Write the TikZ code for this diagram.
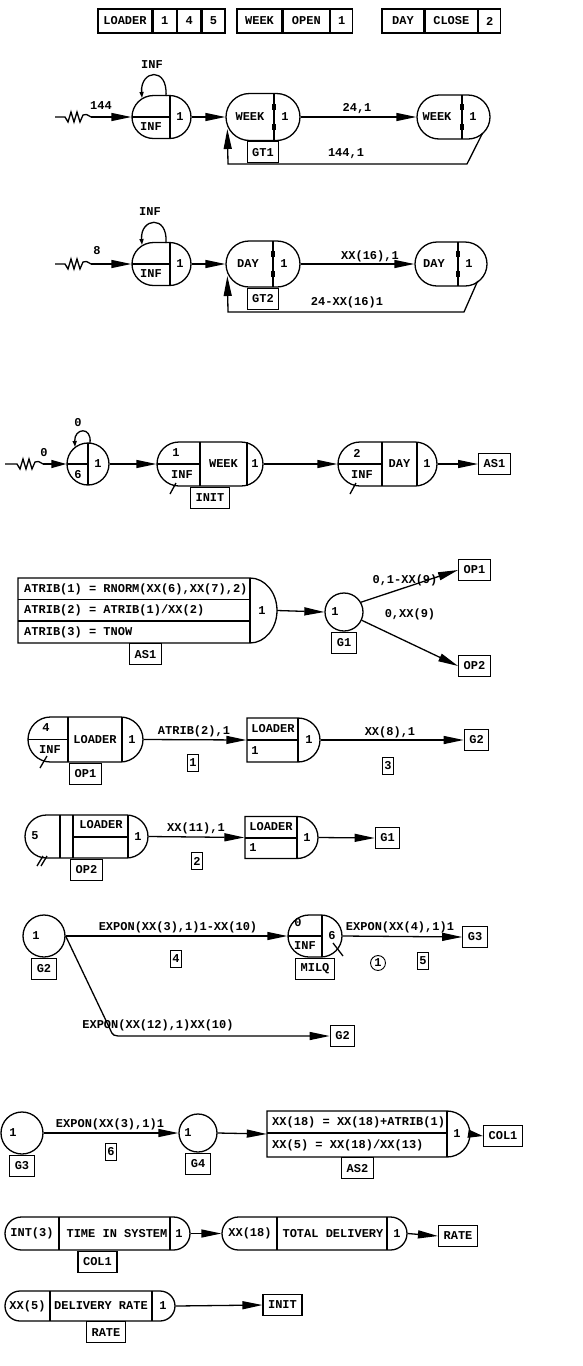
\documentclass[tikz,border=0pt]{standalone}
\usepackage{fontspec}
\setmonofont{Liberation Mono}
\usetikzlibrary{arrows.meta,calc,positioning,shapes.misc}

\begin{document}
\begin{tikzpicture}[
  x=1pt,
  y=-1pt,
  font=\ttfamily\bfseries\fontsize{12}{14}\selectfont,
  line/.style={draw=black,line width=1.3pt},
  fine/.style={draw=black,line width=0.9pt},
  arrow/.style={line,-{Triangle[length=20pt,width=8pt]}},
  shortarrow/.style={line,-{Triangle[length=15pt,width=8pt]}},
  looparrow/.style={line,-{Triangle[length=6pt,width=4pt]}},
  stad/.style={line,rounded rectangle,inner sep=0pt},
  rstad/.style={stad,rounded rectangle left arc=none},
  gnode/.style={line,circle,inner sep=0pt},
  hull/.style={inner sep=0pt},
  cell/.style={line,minimum height=24pt,inner sep=0pt},
  lbox/.style={line,minimum height=21pt,inner xsep=5pt,inner ysep=0pt},
  numbox/.style={fine,minimum height=17pt,inner xsep=1.5pt,inner ysep=0pt},
  lab/.style={inner sep=0pt}
]
\fill[white] (0,0) rectangle (583,1366);
\useasboundingbox (0,0) rectangle (583,1366);

% Resources
\node[cell,minimum width=54pt] (ld) at (125,21) {LOADER};
\node[cell,minimum width=23pt,right=0pt of ld] (ldone) {1};
\node[cell,minimum width=23pt,right=0pt of ldone] (ldfour) {4};
\node[cell,minimum width=23pt,right=0pt of ldfour] (ldfive) {5};
\node[cell,minimum width=45pt] (wk) at (259.5,21) {WEEK};
\node[cell,minimum width=46pt,right=0pt of wk] (wkopen) {OPEN};
\node[cell,minimum width=22pt,right=0pt of wkopen] (wkone) {1};
\node[cell,minimum width=42pt] (dy) at (403,21) {DAY};
\node[cell,minimum width=52pt,right=0pt of dy] (dyclose) {CLOSE};
\node[cell,minimum width=22pt,right=0pt of dyclose] (dytwo) {2};

% Week gate
\draw[line] (55,117) -- ++(10,0) -- ++(3,5) -- ++(3,-10) -- ++(3,10) -- ++(3,-10)
  -- ++(3,10) -- ++(3,-7) .. controls ++(3,-1) .. ++(8,2) coordinate (ra);
\node[lab] at (101,106) {144};
\node[stad,minimum width=59pt,minimum height=43pt] (qa) at (161.5,117) {};
\draw[line] (170,95.5) -- (170,138.5);
\draw[line] (132,117) -- (170,117);
\node[lab] at (151,127) {INF};
\node[lab] at (180,117) {1};
\draw[looparrow] (166,96) .. controls (168,66) and (140,70) .. (142,98);
\node[lab] at (152,65) {INF};
\draw[arrow] (ra) -- (qa.west);

\node[stad,minimum width=74pt,minimum height=47pt] (wa) at (263,117) {};
\draw[line] (274,93.5) -- (274,140.5);
\fill (272,104) rectangle (276,110);
\fill (272,124) rectangle (276,130);
\node[lab] at (250,117) {WEEK};
\node[lab] at (285,117) {1};
\node[lbox,below=0pt of wa] (gta) {GT1};
\draw[arrow] (qa.east) -- (wa.west);

\node[stad,minimum width=73pt,minimum height=44pt] (wb) at (453.5,117) {};
\draw[line] (462,95) -- (462,139);
\fill (460,104) rectangle (464,110);
\fill (460,124) rectangle (464,130);
\node[lab] at (437,117) {WEEK};
\node[lab] at (473,117) {1};
\draw[arrow] (wa.east) -- (wb.west);
\node[lab] at (357,109) {24,1};
\draw[arrow] ($(wb.east)+(-8,16)$) -- (467,164) -- (228,164) -- ($(wa.west)+(2,12)$);
\node[lab] at (346,154) {144,1};

% Day gate
\draw[line] (55,264) -- ++(10,0) -- ++(3,5) -- ++(3,-10) -- ++(3,10) -- ++(3,-10)
  -- ++(3,10) -- ++(3,-7) .. controls ++(3,-1) .. ++(8,2) coordinate (rb);
\node[lab] at (97,251) {8};
\node[stad,minimum width=59pt,minimum height=43pt] (qb) at (161.5,264) {};
\draw[line] (170,242.5) -- (170,285.5);
\draw[line] (132,264) -- (170,264);
\node[lab] at (151,274) {INF};
\node[lab] at (180,264) {1};
\draw[looparrow] (166,243) .. controls (168,214) and (140,218) .. (142,245);
\node[lab] at (150,212) {INF};
\draw[arrow] (rb) -- (qb.west);

\node[stad,minimum width=74pt,minimum height=46pt] (da) at (263,264) {};
\draw[line] (273,241) -- (273,287);
\fill (271,251) rectangle (275,257);
\fill (271,271) rectangle (275,277);
\node[lab] at (248,264) {DAY};
\node[lab] at (284,264) {1};
\node[lbox,below=0pt of da] (gtb) {GT2};
\draw[arrow] (qb.east) -- (da.west);

\node[stad,minimum width=72pt,minimum height=44pt] (db) at (451,264) {};
\draw[line] (458,242) -- (458,286);
\fill (456,251) rectangle (460,257);
\fill (456,271) rectangle (460,277);
\node[lab] at (434,264) {DAY};
\node[lab] at (469,264) {1};
\draw[arrow] (da.east) -- (db.west);
\node[lab] at (370,256) {XX(16),1};
\draw[arrow] ($(db.east)+(-10,17)$) -- (464,312) -- (228,312) -- ($(da.west)+(2,12)$);
\node[lab] at (347,302) {24-XX(16)1};

% Initial entity
\draw[line] (5,464) -- ++(12,0) -- ++(3,5) -- ++(3,-10) -- ++(3,10) -- ++(3,-10)
  -- ++(3,10) -- ++(3,-7) .. controls ++(3,-1) .. ++(8,2) coordinate (rc);
\node[lab] at (44,453) {0};
\node[gnode,minimum size=42pt] (cr) at (88,464) {};
\draw[line] (88,443) -- (88,485);
\draw[line] (67,464) -- (88,464);
\node[lab] at (78,475) {6};
\node[lab] at (98,464) {1};
\draw[looparrow] (90,443) .. controls (92,426) and (74,428) .. (75,447);
\node[lab] at (78,423) {0};
\draw[shortarrow] (rc) -- (cr.west);

\node[stad,minimum width=106pt,minimum height=44pt] (ena) at (210,464) {};
\draw[line] (200,442) -- (200,486);
\draw[line] (157,464) -- (200,464);
\draw[line] (247,442) -- (247,486);
\node[lab] at (176,453) {1};
\node[lab] at (182,475) {INF};
\node[lab] at (223.5,464) {WEEK};
\node[lab] at (255,464) {1};
\draw[line] (170,494) -- (176,483);
\node[lbox,below=0pt of ena] (init) {INIT};
\draw[arrow] (cr.east) -- (ena.west);

\node[stad,minimum width=99pt,minimum height=44pt] (enb) at (387.5,464) {};
\draw[line] (382,442) -- (382,486);
\draw[line] (338,464) -- (382,464);
\draw[line] (417,442) -- (417,486);
\node[lab] at (357,453) {2};
\node[lab] at (362,475) {INF};
\node[lab] at (399.5,464) {DAY};
\node[lab] at (427,464) {1};
\draw[line] (350,494) -- (356,483);
\draw[arrow] (ena.east) -- (enb.west);
\node[lbox] (asat) at (494.5,464) {AS1};
\draw[arrow] (enb.east) -- (asat.west);

% Assign AS1
\draw[line] (18,578) -- (250,578) arc[start angle=90,end angle=-90,x radius=27pt,y radius=32.5pt] -- (18,643) -- cycle;
\node[hull,minimum width=259pt,minimum height=65pt] (asa) at (147.5,610.5) {};
\draw[line] (18,599.5) -- (250,599.5);
\draw[line] (18,621) -- (250,621);
\draw[line] (250,578) -- (250,643);
\node[lab,anchor=west] at (24,589) {ATRIB(1) = RNORM(XX(6),XX(7),2)};
\node[lab,anchor=west] at (24,610) {ATRIB(2) = ATRIB(1)/XX(2)};
\node[lab,anchor=west] at (24,632) {ATRIB(3) = TNOW};
\node[lab] at (262,610.5) {1};
\node[lbox,anchor=north] (asab) at (145.5,643) {AS1};

\node[gnode,minimum size=38pt] (ga) at (344,612) {};
\node[lab] at (335,612) {1};
\node[lbox,below=0pt of ga] (gab) {G1};
\draw[arrow] (asa.east) -- (ga.west);
\node[lbox] (opat) at (474.5,570) {OP1};
\node[lbox] (opbt) at (474.5,666) {OP2};
\draw[arrow] (ga.30) -- (opat.west);
\draw[arrow] (ga.-25) -- (opbt.west);
\node[lab] at (405,580) {0,1-XX(9)};
\node[lab] at (410,614) {0,XX(9)};

% Operation OP1
\node[stad,minimum width=115pt,minimum height=45pt] (opa) at (85.5,739.5) {};
\draw[line] (68,717) -- (68,762);
\draw[line] (28,739.5) -- (68,739.5);
\draw[line] (122,717) -- (122,762);
\node[lab] at (46,728) {4};
\node[lab] at (50,750) {INF};
\node[lab] at (95,739.5) {LOADER};
\node[lab] at (132,739.5) {1};
\draw[line] (40,768) -- (47,756);
\node[lbox,below=0pt of opa] (opab) {OP1};

\node[rstad,minimum width=73pt,minimum height=44pt] (fra) at (283.5,740) {};
\draw[line] (298,718) -- (298,762);
\draw[line] (247,740) -- (298,740);
\node[lab] at (273,729) {LOADER};
\node[lab] at (255,751) {1};
\node[lab] at (309,740) {1};
\draw[arrow] (opa.east) -- (fra.west);
\node[lab] at (194,731) {ATRIB(2),1};
\node[numbox] at (193,763) {1};
\node[lbox] (gbt) at (476.5,740) {G2};
\draw[arrow] (fra.east) -- (gbt.west);
\node[lab] at (390,732) {XX(8),1};
\node[numbox] at (388,766) {3};

% Operation OP2
\node[stad,minimum width=123pt,minimum height=43pt] (opb) at (86.5,836.5) {};
\draw[line] (60,815) -- (60,858);
\draw[line] (73,815) -- (73,858);
\draw[line] (73,837) -- (128,837);
\draw[line] (128,815) -- (128,858);
\node[lab] at (35,836) {5};
\node[lab] at (101,825) {LOADER};
\node[lab] at (138,836.5) {1};
\draw[line] (37,866) -- (43,856);
\draw[line] (41,866) -- (47,856);
\node[lbox,below=0pt of opb] (opbb) {OP2};

\node[rstad,minimum width=73pt,minimum height=42pt] (frb) at (281.5,837.5) {};
\draw[line] (297,816.5) -- (297,858.5);
\draw[line] (245,838) -- (297,838);
\node[lab] at (271,827) {LOADER};
\node[lab] at (253,848) {1};
\node[lab] at (307,837.5) {1};
\draw[arrow] (opb.east) -- (frb.west);
\node[lab] at (196,828) {XX(11),1};
\node[numbox] at (197,861) {2};
\node[lbox] (gat) at (387.5,838) {G1};
\draw[arrow] (frb.east) -- (gat.west);

% Milling queue
\node[gnode,minimum size=42pt] (gb) at (44,936) {};
\node[lab] at (36,936) {1};
\node[lbox,below=0pt of gb] (gbb) {G2};
\node[stad,minimum width=54pt,minimum height=42pt] (milq) at (315,936) {};
\draw[line] (322,915) -- (322,957);
\draw[line] (288,936) -- (322,936);
\node[lab] at (298,923) {0};
\node[lab] at (305,946) {INF};
\node[lab] at (332,936) {6};
\draw[line] (333,943) -- (343,956);
\node[lbox,below=0pt of milq] (milqb) {MILQ};
\draw[arrow] (gb.east) -- (milq.west);
\node[lab] at (178,927) {EXPON(XX(3),1)1-XX(10)};
\node[numbox] at (176,959) {4};
\node[lbox] (gct) at (475,937) {G3};
\draw[arrow] (milq.east) -- (gct.west);
\node[lab] at (400,927) {EXPON(XX(4),1)1};
\node[fine,circle,inner sep=1.5pt] at (378,963) {1};
\node[numbox] at (423,961) {5};
\node[lbox] (gbtt) at (342.5,1036) {G2};
\draw[arrow] (gb.east) -- (110,1029) .. controls (113,1036) .. (124,1036) -- (gbtt.west);
\node[lab] at (158,1025) {EXPON(XX(12),1)XX(10)};

% Delivery
\node[gnode,minimum size=42pt] (gc) at (22,1133) {};
\node[lab] at (13,1133) {1};
\node[lbox,below=0pt of gc] (gcb) {G3};
\node[gnode,minimum size=38pt] (gd) at (198,1133) {};
\node[lab] at (188,1133) {1};
\node[lbox,below=0pt of gd] (gdb) {G4};
\draw[arrow] (gc.east) -- (gd.west);
\node[lab] at (110,1124) {EXPON(XX(3),1)1};
\node[numbox] at (111,1152) {6};

\draw[line] (267,1111) -- (447,1111) arc[start angle=90,end angle=-90,radius=23pt] -- (267,1157) -- cycle;
\node[hull,minimum width=203pt,minimum height=46pt] (asb) at (368.5,1134) {};
\draw[line] (267,1133) -- (447,1133);
\draw[line] (447,1111) -- (447,1157);
\node[lab,anchor=west] at (272,1122) {XX(18) = XX(18)+ATRIB(1)};
\node[lab,anchor=west] at (272,1145) {XX(5) = XX(18)/XX(13)};
\node[lab] at (457,1134) {1};
\node[lbox,anchor=north] (asbb) at (357.5,1157) {AS2};
\draw[arrow] (gd.east) -- (asb.west);
\node[lbox] (colt) at (503,1136) {COL1};
\draw[shortarrow] (asb.east) -- (colt.west);

% Statistics
\node[stad,minimum width=185pt,minimum height=33pt] (cola) at (97.5,1233.5) {};
\draw[line] (59,1217) -- (59,1250);
\draw[line] (170,1217) -- (170,1250);
\node[lab] at (32,1233.5) {INT(3)};
\node[lab] at (117,1233.5) {TIME IN SYSTEM};
\node[lab] at (179,1233.5) {1};
\node[lbox,below=0pt of cola] (colb) {COL1};
\node[stad,minimum width=185pt,minimum height=33pt] (colc) at (314.5,1233.5) {};
\draw[line] (277,1217) -- (277,1250);
\draw[line] (387,1217) -- (387,1250);
\node[lab] at (250,1233.5) {XX(18)};
\node[lab] at (333,1233.5) {TOTAL DELIVERY};
\node[lab] at (397,1233.5) {1};
\draw[arrow] (cola.east) -- (colc.west);
\node[lbox] (ratet) at (458,1236) {RATE};
\draw[arrow] (colc.east) -- (ratet.west);

\node[stad,minimum width=170pt,minimum height=30pt] (rate) at (90,1306) {};
\draw[line] (50,1291) -- (50,1321);
\draw[line] (152,1291) -- (152,1321);
\node[lab] at (27.5,1306) {XX(5)};
\node[lab] at (101,1306) {DELIVERY RATE};
\node[lab] at (163,1306) {1};
\node[lbox,anchor=north] (rateb) at (106,1321) {RATE};
\node[lbox] (initt) at (282.5,1305) {INIT};
\draw[arrow] (rate.east) -- (initt.west);

\end{tikzpicture}
\end{document}
